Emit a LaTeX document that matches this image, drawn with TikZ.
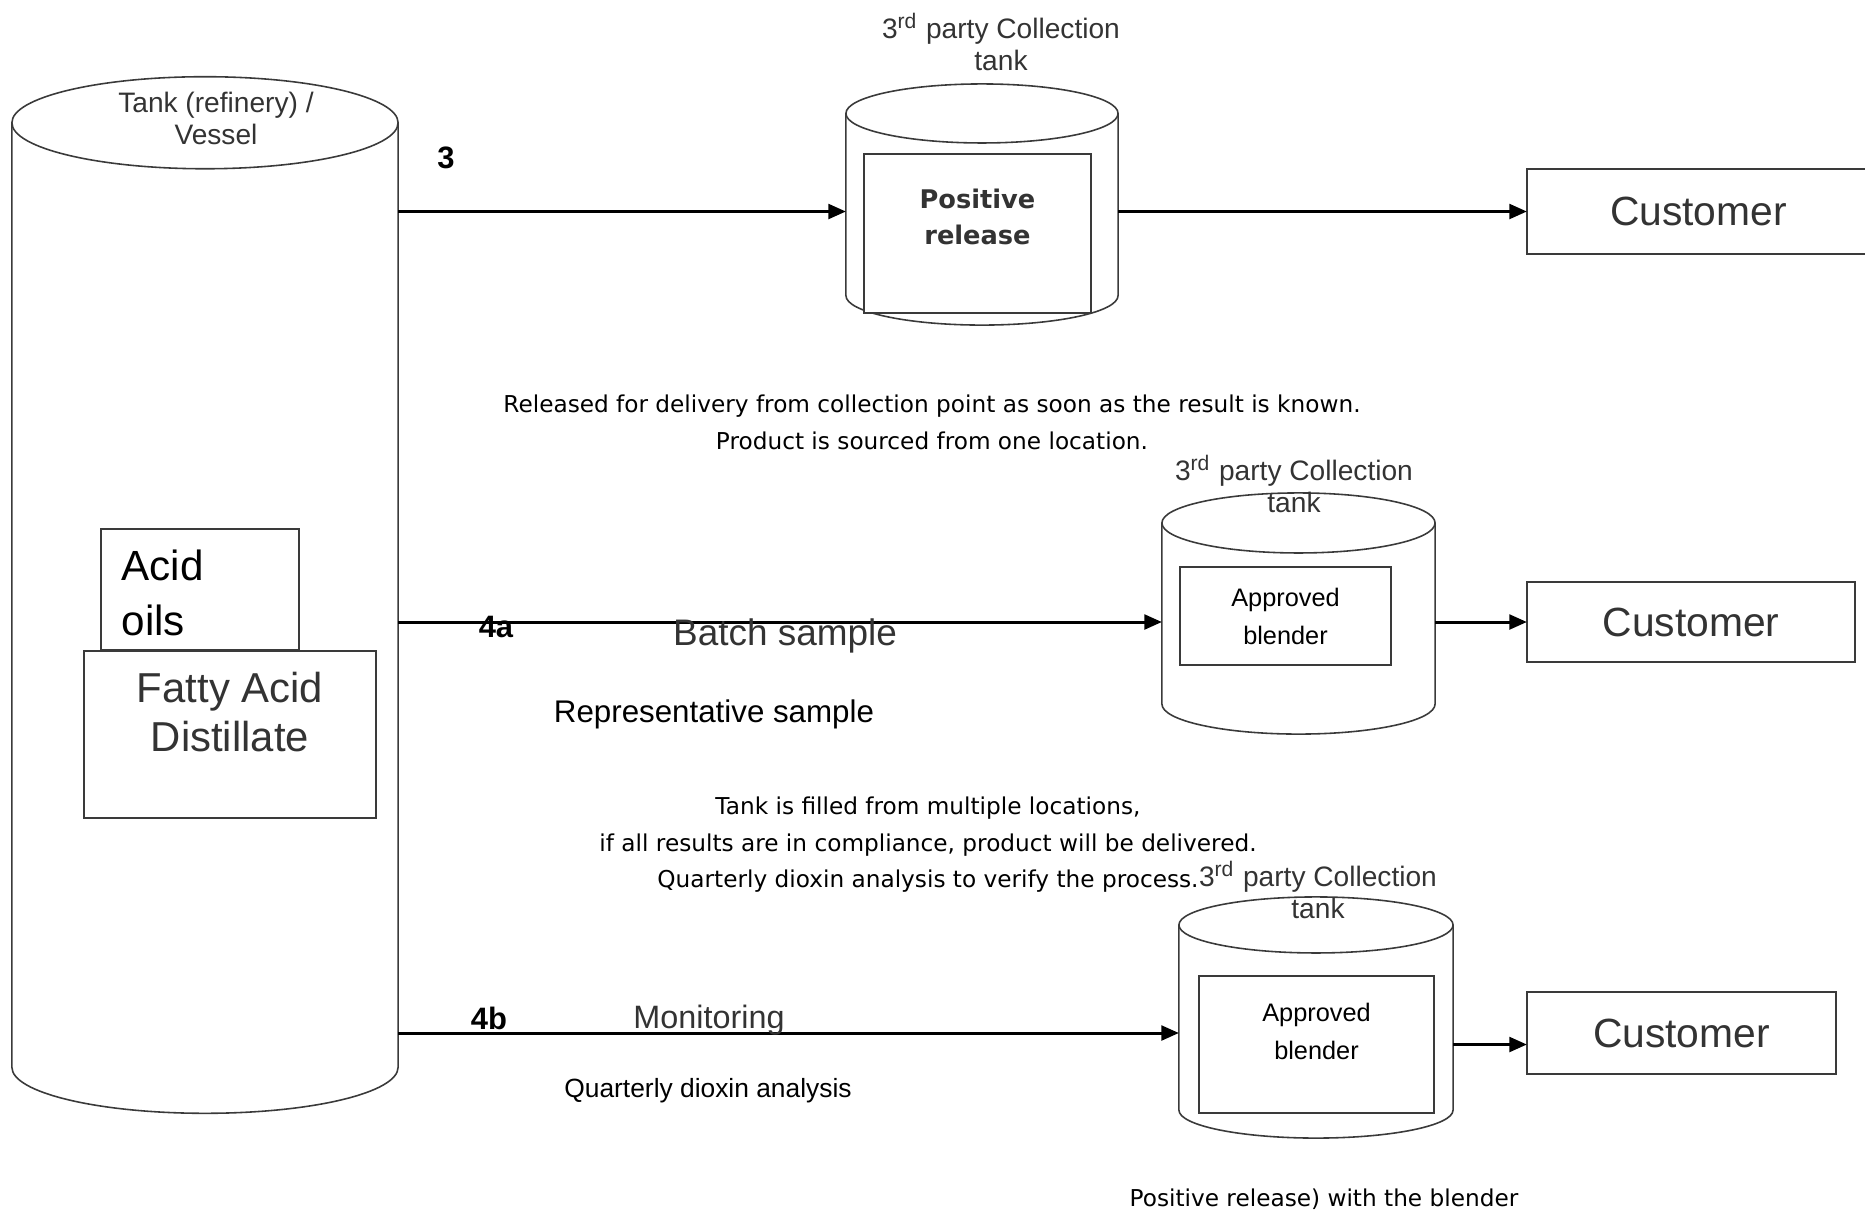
\documentclass[tikz,border=0pt]{standalone}
\usepackage{fontspec}
\setmainfont{Liberation Sans}
\newfontfamily\tahoma{DejaVu Sans}
\usetikzlibrary{arrows.meta}
\definecolor{inkgray}{HTML}{333333}
\definecolor{linegray}{HTML}{3A3A3A}

\begin{document}
\begin{tikzpicture}[
		x=0.01cm, y=0.01cm,
		tankbody/.style={inner sep=0pt, outer sep=0pt},
		tankline/.style={draw=linegray, line width=0.45pt},
		box/.style={draw=linegray, line width=0.5pt, fill=white, inner sep=0pt, outer sep=0pt},
		custbox/.style={box, line width=0.6pt, text=inkgray, font=\fontsize{11.6}{14}\selectfont},
		flow/.style={-{Triangle[length=5pt, width=4.2pt]}, line width=0.85pt},
		caption/.style={inner sep=0pt, align=center, text=inkgray, font=\fontsize{8}{9.2}\selectfont},
		note/.style={inner sep=0pt, align=center, font=\tahoma\fontsize{6.6}{10.4}\selectfont},
		stepno/.style={inner sep=0pt, font=\bfseries\fontsize{8.8}{10}\selectfont}
	]
	\useasboundingbox (0,0) rectangle (1865,-1214);

		% Tanks
		\node[tankbody, minimum width=3.86cm, minimum height=9.44cm] (vessel) at (205,-595) {};
		\node[tankbody, minimum width=2.72cm, minimum height=1.82cm] (coll1) at (982,-204.5) {};
		\node[tankbody, minimum width=2.73cm, minimum height=1.81cm] (coll2) at (1298.5,-613.5) {};
		\node[tankbody, minimum width=2.74cm, minimum height=1.85cm] (coll3) at (1316,-1017.5) {};
		\foreach \t/\rx/\ry in {vessel/1.93cm/0.46cm, coll1/1.36cm/0.295cm, coll2/1.365cm/0.30cm, coll3/1.37cm/0.28cm} {
			\draw[tankline] (\t.north west) -- (\t.south west)
				arc[start angle=180, end angle=360, x radius=\rx, y radius=\ry] -- (\t.north east);
			\draw[tankline] (\t.north) ellipse[x radius=\rx, y radius=\ry];
		}

		% Tank captions
		\node[caption] (vessellbl) at (216,-118.5) {Tank (refinery) /\\Vessel};
		\node[caption] (coll1lbl) at (1001,-42) {3\textsuperscript{rd} party Collection\\tank};
		\node[caption] (coll2lbl) at (1294,-484) {3\textsuperscript{rd} party Collection\\tank};
		\node[caption] (coll3lbl) at (1318,-890) {3\textsuperscript{rd} party Collection\\tank};

		% Boxes inside the tanks
		\node[box, minimum width=2.27cm, minimum height=1.59cm] (prel) at (977.5,-233.5) {};
		\node[inner sep=0pt, align=center, text=inkgray, font=\tahoma\bfseries\fontsize{7.3}{10.2}\selectfont] (prellbl) at (977.5,-217) {Positive\\release};
		\node[box, minimum width=2.11cm, minimum height=0.98cm, align=center, font=\fontsize{7.2}{10.8}\selectfont] (blend2) at (1285.5,-616) {Approved\\blender};
		\node[box, minimum width=2.35cm, minimum height=1.37cm] (blend3) at (1316.5,-1044.5) {};
		\node[inner sep=0pt, align=center, font=\fontsize{7.2}{10.6}\selectfont] (blend3lbl) at (1316.5,-1031.5) {Approved\\blender};

		\node[box, minimum width=1.98cm, minimum height=1.21cm] (acid) at (200,-589.5) {};
		\node[inner sep=0pt, anchor=west, align=left, font=\fontsize{12}{15.6}\selectfont] (acidlbl) at (121,-592.5) {Acid\\oils};
		\node[box, minimum width=2.92cm, minimum height=1.67cm] (fad) at (230,-734.5) {};
		\node[inner sep=0pt, align=center, text=inkgray, font=\fontsize{11.9}{14.2}\selectfont] (fadlbl) at (230,-712) {Fatty Acid\\Distillate};

		% Customers
		\node[custbox, minimum width=3.43cm, minimum height=0.85cm] (cust1) at (1698.5,-211.5) {Customer};
		\node[custbox, minimum width=3.28cm, minimum height=0.80cm] (cust2) at (1691,-622) {Customer};
		\node[custbox, minimum width=3.09cm, minimum height=0.82cm] (cust3) at (1681.5,-1033) {Customer};

		% Arrows
		\draw[flow] (vessel.east |- cust1.west) -- (coll1.west |- cust1.west);
		\draw[flow] (coll1.east |- cust1.west) -- (cust1.west);
		\draw[flow] (vessel.east |- cust2.west) -- (coll2.west |- cust2.west);
		\draw[flow] (coll2.east |- cust2.west) -- (cust2.west);
		\draw[flow] (vessel.east |- cust3.west) -- (coll3.west |- cust3.west);
		\draw[flow] (coll3.east |- blend3) -- (cust3.west |- blend3);

		% Route labels
		\node[stepno] (no3) at (446,-158) {3};
		\node[stepno] (no4a) at (496,-627) {4a};
		\node[stepno] (no4b) at (489,-1018) {4b};
		\node[inner sep=0pt, text=inkgray, font=\fontsize{10.5}{12}\selectfont] (batch) at (785,-636) {Batch sample};
		\node[inner sep=0pt, font=\fontsize{8.9}{10}\selectfont] (repr) at (714,-714) {Representative sample};
		\node[inner sep=0pt, text=inkgray, font=\fontsize{9.2}{10}\selectfont] (monit) at (709,-1020) {Monitoring};
		\node[inner sep=0pt, font=\fontsize{7.5}{9}\selectfont] (quart) at (708,-1091) {Quarterly dioxin analysis};

		% Notes
		\node[note] (note3) at (932,-422.5) {Released for delivery from collection point as soon as the result is known.\\Product is sourced from one location.};
		\node[note] (note4a) at (928,-845) {Tank is filled from multiple locations,\\if all results are in compliance, product will be delivered.\\Quarterly dioxin analysis to verify the process.};
		\node[note] (note4b) at (1324,-1199) {Positive release) with the blender};

	\end{tikzpicture}
\end{document}
